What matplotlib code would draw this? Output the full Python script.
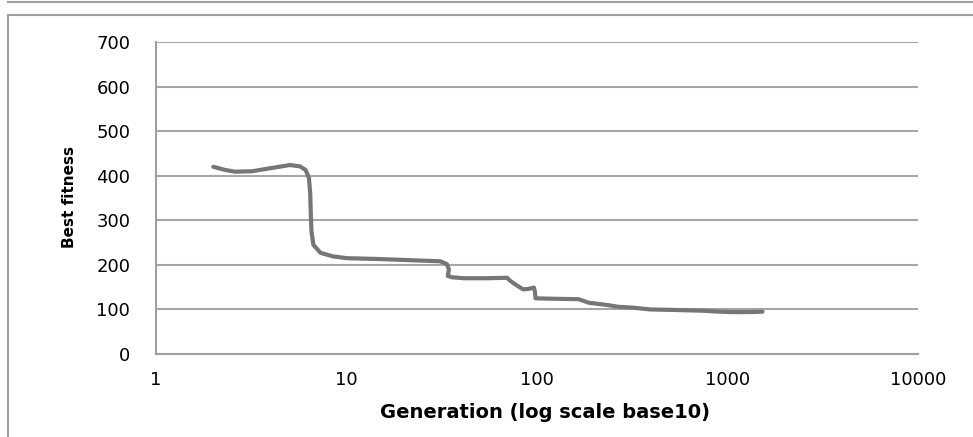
import matplotlib
matplotlib.use("Agg")
import matplotlib.pyplot as plt
from matplotlib.lines import Line2D

# values (generation, best fitness)
generation = [2.0, 2.3, 2.6, 3.2, 4.0, 5.05, 5.7, 6.1, 6.35, 6.45, 6.5, 6.55, 6.7, 7.3, 8.5, 10,
              15, 20, 31, 33.6, 34.5, 34, 36, 41.4, 55, 69.6, 72, 75.7, 84.5, 90, 96.4, 97.5,
              98.2, 120, 165, 187, 233, 266, 320, 392, 500, 620, 748, 900, 1057, 1300, 1528]
fitness = [420, 413, 409, 410, 417, 424, 421, 413, 395, 360, 310, 275, 245, 227, 219, 215,
           213, 211, 208, 202, 190, 175, 172, 170, 170, 171, 165, 158, 145, 146, 149, 140,
           125, 124, 123, 115, 110, 106, 104, 100, 99, 98, 97, 95, 94, 94, 95]

y_ticks = [0, 100, 200, 300, 400, 500, 600, 700]
x_ticks = [1, 10, 100, 1000, 10000]
x_tick_labels = ["1", "10", "100", "1000", "10000"]

W, H = 973, 437
fig = plt.figure(figsize=(W / 100, H / 100), dpi=100)
ax = fig.add_axes([156 / W, 1 - 354 / H, (918 - 156) / W, (354 - 42) / H])

ax.plot(generation, fitness, color="#767676", lw=3, solid_capstyle="round",
        solid_joinstyle="round", zorder=3)

ax.set_xscale("log")
ax.set_xlim(1, 10000)
ax.set_ylim(0, 700)
ax.set_xticks(x_ticks)
ax.set_xticklabels(x_tick_labels)
ax.minorticks_off()
ax.set_yticks(y_ticks)

ax.grid(axis="y", color="#a6a6a6", lw=1.5)
ax.set_axisbelow(True)
for side in ["top", "right"]:
    ax.spines[side].set_visible(False)
for side in ["left", "bottom"]:
    ax.spines[side].set_color("#a0a0a0")
    ax.spines[side].set_linewidth(1.5)

ax.tick_params(axis="both", length=0, labelsize=13, colors="black")
ax.tick_params(axis="y", pad=18.5)
ax.tick_params(axis="x", pad=12)
for lbl in ax.get_xticklabels() + ax.get_yticklabels():
    lbl.set_family("DejaVu Sans")

fig.text(545 / W, 1 - 413 / H, "Generation (log scale base10)", ha="center", va="center",
         fontsize=14, fontweight="bold", family="DejaVu Sans")
fig.text(70 / W, 1 - 197 / H, "Best fitness", ha="center", va="center", rotation=90,
         fontsize=11, fontweight="bold", family="DejaVu Sans")

# outer chart frame
frame_c = "#a0a0a0"
fig.add_artist(Line2D([8 / W, 1], [1 - 2 / H, 1 - 2 / H], color=frame_c, lw=1.5))
fig.add_artist(Line2D([8 / W, 1], [1 - 15 / H, 1 - 15 / H], color=frame_c, lw=1.5))
fig.add_artist(Line2D([8 / W, 8 / W], [1 - 15 / H, 0], color=frame_c, lw=1.5))

fig.savefig("out.png", dpi=100)
